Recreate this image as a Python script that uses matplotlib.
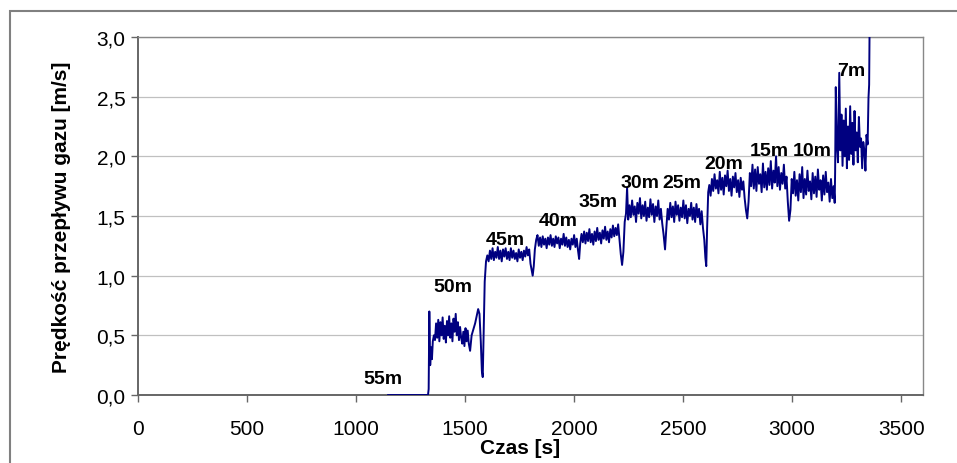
import numpy as np
import matplotlib.pyplot as plt
from matplotlib.patches import Rectangle

plt.rcParams['font.family'] = ['Liberation Sans', 'DejaVu Sans']

# czas [s] i predkosc [m/s]
czas = [1147, 1330, 1333, 1336, 1340, 1344, 1348, 1352, 1357, 1362, 1367, 1372, 1377, 1382,
        1387, 1392, 1397, 1402, 1407, 1412, 1417, 1422, 1427, 1432, 1437, 1442, 1447, 1452,
        1457, 1462, 1467, 1472, 1477, 1482, 1487, 1492, 1497, 1502, 1507, 1512, 1517, 1523,
        1530, 1538, 1546, 1553, 1560, 1566, 1572, 1577, 1581, 1585, 1590, 1596,
        1602, 1608, 1614, 1620, 1626, 1632, 1638, 1644, 1650, 1656, 1662, 1668, 1674, 1680,
        1686, 1692, 1698, 1704, 1710, 1716, 1722, 1728, 1734, 1740, 1746, 1752, 1758, 1764,
        1770, 1776, 1782, 1788, 1794, 1800, 1805, 1810, 1815, 1820, 1826,
        1832, 1838, 1844, 1850, 1856, 1862, 1868, 1874, 1880, 1886, 1892, 1898, 1904, 1910,
        1916, 1922, 1928, 1934, 1940, 1946, 1952, 1958, 1964, 1970, 1976, 1982, 1988, 1994,
        2000, 2006, 2012, 2018, 2023, 2028, 2034, 2040, 2046, 2052, 2058, 2064, 2070, 2076,
        2082, 2088, 2094, 2100, 2106, 2112, 2118, 2124, 2130, 2136, 2142, 2148, 2154, 2160,
        2166, 2172, 2178, 2184, 2190, 2196, 2202, 2208, 2214, 2220, 2226, 2232, 2238,
        2243, 2248, 2254, 2260, 2266, 2272, 2278, 2284, 2290, 2296, 2302, 2308, 2314, 2320,
        2326, 2332, 2338, 2344, 2350, 2356, 2362, 2368, 2374, 2380, 2386, 2392, 2398, 2404,
        2410, 2417, 2423, 2429, 2435, 2441, 2447, 2453, 2459, 2465, 2471, 2477, 2483, 2489,
        2495, 2501, 2507, 2513, 2519, 2525, 2531, 2537, 2543, 2549, 2555, 2561, 2567, 2573,
        2579, 2585, 2591, 2597, 2602, 2606, 2610, 2615,
        2620, 2626, 2632, 2638, 2644, 2650, 2656, 2662, 2668, 2674, 2680, 2686, 2692, 2698,
        2704, 2710, 2716, 2722, 2728, 2734, 2740, 2746, 2752, 2758, 2764, 2770, 2776, 2782,
        2788, 2794, 2800, 2806, 2812, 2818, 2824, 2830, 2836, 2842, 2848, 2854, 2860, 2866,
        2872, 2878, 2884, 2890, 2896, 2902, 2908, 2914, 2920, 2926, 2932, 2938, 2944, 2950,
        2956, 2962, 2968, 2974, 2980, 2986, 2992, 2998, 3004, 3010, 3016, 3022, 3028, 3034,
        3040, 3046, 3052, 3058, 3064, 3070, 3076, 3082, 3088, 3094, 3100, 3106, 3112, 3118,
        3124, 3130, 3136, 3142, 3148, 3154, 3160, 3166, 3172, 3178, 3184, 3190, 3195,
        3197, 3200, 3205, 3210, 3216, 3221, 3226, 3231, 3236, 3241, 3246, 3251, 3256, 3261,
        3266, 3271, 3276, 3281, 3286, 3291, 3296, 3301, 3306, 3311, 3316, 3321, 3326, 3331,
        3336, 3341, 3346, 3350, 3353, 3356]

predkosc = [0.00, 0.00, 0.05, 0.70, 0.25, 0.40, 0.30, 0.45, 0.50, 0.46, 0.60, 0.48, 0.63, 0.45,
            0.61, 0.50, 0.65, 0.47, 0.58, 0.44, 0.62, 0.50, 0.66, 0.48, 0.60, 0.45, 0.64, 0.53,
            0.68, 0.50, 0.61, 0.46, 0.57, 0.48, 0.43, 0.53, 0.41, 0.56, 0.45, 0.54, 0.43, 0.37,
            0.50, 0.55, 0.60, 0.66, 0.72, 0.68, 0.45, 0.20, 0.15, 0.50, 0.95, 1.12,
            1.17, 1.12, 1.21, 1.14, 1.23, 1.13, 1.20, 1.15, 1.24, 1.14, 1.21, 1.12, 1.22, 1.16,
            1.23, 1.14, 1.20, 1.13, 1.23, 1.15, 1.21, 1.14, 1.19, 1.12, 1.22, 1.15, 1.20, 1.13,
            1.21, 1.16, 1.24, 1.17, 1.22, 1.10, 1.05, 1.00, 1.08, 1.22, 1.30,
            1.34, 1.25, 1.32, 1.24, 1.33, 1.26, 1.31, 1.23, 1.32, 1.26, 1.34, 1.25, 1.31, 1.24,
            1.33, 1.27, 1.32, 1.23, 1.31, 1.26, 1.35, 1.25, 1.32, 1.24, 1.30, 1.22, 1.31, 1.26,
            1.34, 1.24, 1.31, 1.21, 1.14, 1.27, 1.35, 1.28, 1.37, 1.27, 1.36, 1.29, 1.39, 1.28,
            1.35, 1.26, 1.37, 1.29, 1.40, 1.30, 1.36, 1.27, 1.38, 1.31, 1.41, 1.30, 1.37, 1.28,
            1.39, 1.32, 1.42, 1.33, 1.40, 1.34, 1.43, 1.30, 1.18, 1.09, 1.20, 1.45, 1.52,
            1.74, 1.47, 1.59, 1.49, 1.63, 1.51, 1.58, 1.45, 1.61, 1.52, 1.65, 1.48, 1.59, 1.50,
            1.62, 1.46, 1.57, 1.49, 1.64, 1.51, 1.60, 1.45, 1.58, 1.50, 1.63, 1.47, 1.56, 1.44,
            1.35, 1.22, 1.40, 1.56, 1.47, 1.61, 1.49, 1.58, 1.45, 1.62, 1.51, 1.59, 1.46, 1.57,
            1.49, 1.63, 1.48, 1.59, 1.44, 1.56, 1.50, 1.61, 1.47, 1.57, 1.45, 1.60, 1.49, 1.56,
            1.43, 1.54, 1.40, 1.30, 1.15, 1.08, 1.40, 1.70,
            1.76, 1.67, 1.81, 1.71, 1.85, 1.73, 1.80, 1.69, 1.87, 1.72, 1.82, 1.68, 1.84, 1.75,
            1.88, 1.71, 1.81, 1.67, 1.83, 1.74, 1.86, 1.70, 1.80, 1.66, 1.82, 1.72, 1.79, 1.65,
            1.55, 1.48, 1.62, 1.86, 1.75, 1.93, 1.73, 1.89, 1.71, 1.91, 1.77, 1.85, 1.70, 1.94,
            1.74, 1.87, 1.72, 1.90, 1.76, 1.96, 1.73, 1.88, 1.78, 2.00, 1.75, 1.91, 1.72, 1.86,
            1.77, 1.93, 1.73, 1.83, 1.62, 1.46, 1.55, 1.81, 1.69, 1.87, 1.67, 1.80, 1.63, 1.85,
            1.70, 1.91, 1.65, 1.81, 1.68, 1.88, 1.71, 1.79, 1.64, 1.86, 1.69, 1.83, 1.66, 1.89,
            1.72, 1.80, 1.63, 1.84, 1.68, 1.87, 1.70, 1.78, 1.62, 1.81, 1.65, 1.75, 1.61,
            1.87, 2.58, 2.10, 1.95, 2.70, 2.05, 2.35, 1.92, 2.30, 2.00, 2.40, 1.90, 2.25, 1.97,
            2.42, 2.02, 2.28, 1.93, 2.38, 2.05, 2.20, 1.95, 2.33, 2.08, 2.15, 1.90, 2.12, 2.05,
            1.88, 2.18, 2.10, 2.49, 2.60, 3.30]

# opisy odleglosci
etykiety = ['55m', '50m', '45m', '40m', '35m', '30m', '25m', '20m', '15m', '10m', '7m']
etyk_x = [1124, 1445, 1683, 1927, 2110, 2303, 2495, 2688, 2894, 3092, 3271]
etyk_y = [0.14, 0.91, 1.30, 1.46, 1.62, 1.78, 1.78, 1.94, 2.05, 2.05, 2.72]

fig = plt.figure(figsize=(9.57, 4.64), dpi=100)
ax = fig.add_axes([138/957, 68/464, 785/957, 358/464])

# ramka calego wykresu
fig.patches.append(Rectangle((10/957, -0.1), 1.1, 1.1 - 12/464, transform=fig.transFigure,
                             fill=False, edgecolor='#808080', linewidth=1.5))

ax.plot(czas, predkosc, color='#000080', linewidth=1.4, zorder=3)

for t, x, y in zip(etykiety, etyk_x, etyk_y):
    ax.text(x, y, t, ha='center', va='center', fontsize=14, fontweight='bold')

ax.set_xlim(0, 3600)
ax.set_ylim(0, 3.0)
ax.set_xticks(np.arange(0, 3501, 500))
ax.set_yticks(np.arange(0, 3.01, 0.5))
ax.set_yticklabels([('%.1f' % v).replace('.', ',') for v in np.arange(0, 3.01, 0.5)])
ax.grid(axis='y', color='#c0c0c0', linewidth=0.9)
ax.set_axisbelow(True)

for s in ['left', 'bottom']:
    ax.spines[s].set_color('#666666')
    ax.spines[s].set_linewidth(1.4)
for s in ['top', 'right']:
    ax.spines[s].set_color('#888888')
    ax.spines[s].set_linewidth(1.0)

ax.tick_params(axis='both', direction='out', length=5, width=1, color='#666666', labelsize=15)
ax.tick_params(axis='x', pad=12)
ax.tick_params(axis='y', pad=4)

ax.set_xlabel('Czas [s]', fontsize=15, fontweight='bold', va='center')
ax.xaxis.set_label_coords(0.487, -0.148)
ax.set_ylabel('Prędkość przepływu gazu [m/s]', fontsize=15, fontweight='bold', va='center')
ax.yaxis.set_label_coords(-0.097, 0.5)

plt.savefig('out.png', dpi=100)
